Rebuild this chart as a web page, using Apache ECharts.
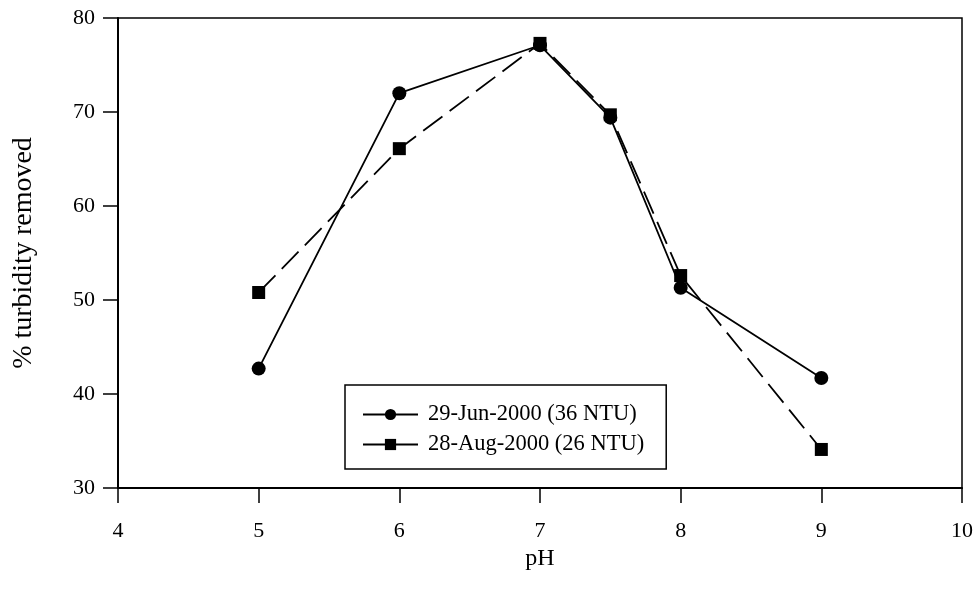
<!DOCTYPE html>
<html>
<head>
<meta charset="utf-8">
<script src="https://cdn.jsdelivr.net/npm/echarts@6/dist/echarts.min.js"></script>
<style>
  html, body { margin: 0; padding: 0; background: #fff; }
  #chart { width: 979px; height: 601px; }
</style>
</head>
<body>
<div id="chart"></div>
<script>
// pH values tested
const phJun = [5, 6, 7, 7.5, 8, 9];
const phAug = [5, 6, 7, 7.5, 8, 9];
// % turbidity removed for each run
const removedJun = [42.7, 72.0, 77.1, 69.4, 51.3, 41.7];
const removedAug = [50.8, 66.1, 77.3, 69.7, 52.6, 34.1];
const seriesNames = ['29-Jun-2000 (36 NTU)', '28-Aug-2000 (26 NTU)'];

const serif = 'Liberation Serif, Times New Roman, serif';

const pairs = (xs, ys) => xs.map((x, i) => [x, ys[i]]);

const chart = echarts.init(document.getElementById('chart'), null, { renderer: 'canvas' });
chart.setOption({
  backgroundColor: '#ffffff',
  animation: false,
  grid: {
    left: 118, right: 17, top: 18, bottom: 113,
    containLabel: false,
    outerBoundsMode: 'none',
    show: true, borderColor: '#000', borderWidth: 1.5
  },
  xAxis: {
    type: 'value', min: 4, max: 10, interval: 1,
    name: 'pH', nameLocation: 'middle', nameGap: 50,
    nameTextStyle: { fontFamily: serif, fontSize: 24, color: '#000' },
    axisLine: { show: true, lineStyle: { color: '#000', width: 2 } },
    axisTick: { show: true, length: 15, lineStyle: { color: '#000', width: 1.5 } },
    axisLabel: { fontFamily: serif, fontSize: 22, color: '#000', margin: 32 },
    splitLine: { show: false }
  },
  yAxis: {
    type: 'value', min: 30, max: 80, interval: 10,
    name: '% turbidity removed', nameLocation: 'middle', nameGap: 80, nameRotate: 90,
    nameTextStyle: { fontFamily: serif, fontSize: 28, color: '#000' },
    axisLine: { show: true, lineStyle: { color: '#000', width: 2 } },
    axisTick: { show: true, length: 15, lineStyle: { color: '#000', width: 1.5 } },
    axisLabel: { fontFamily: serif, fontSize: 22, color: '#000', margin: 23 },
    splitLine: { show: false }
  },
  legend: {
    left: 345, top: 385,
    orient: 'vertical',
    padding: [18, 22, 13, 17],
    itemGap: 7,
    itemWidth: 55, itemHeight: 14,
    borderColor: '#000', borderWidth: 1.5, borderRadius: 0,
    backgroundColor: '#fff',
    textStyle: { fontFamily: serif, fontSize: 22.5, color: '#000', padding: [0, 0, 0, 5] },
    data: seriesNames
  },
  series: [
    {
      name: seriesNames[0], type: 'line',
      data: pairs(phJun, removedJun),
      symbol: 'circle', symbolSize: 14,
      lineStyle: { color: '#000', width: 1.8, type: 'solid' },
      itemStyle: { color: '#000' }
    },
    {
      name: seriesNames[1], type: 'line',
      data: pairs(phAug, removedAug),
      symbol: 'rect', symbolSize: 13,
      lineStyle: { color: '#000', width: 1.8, type: [24, 9] },
      itemStyle: { color: '#000' }
    }
  ]
});
</script>
</body>
</html>
